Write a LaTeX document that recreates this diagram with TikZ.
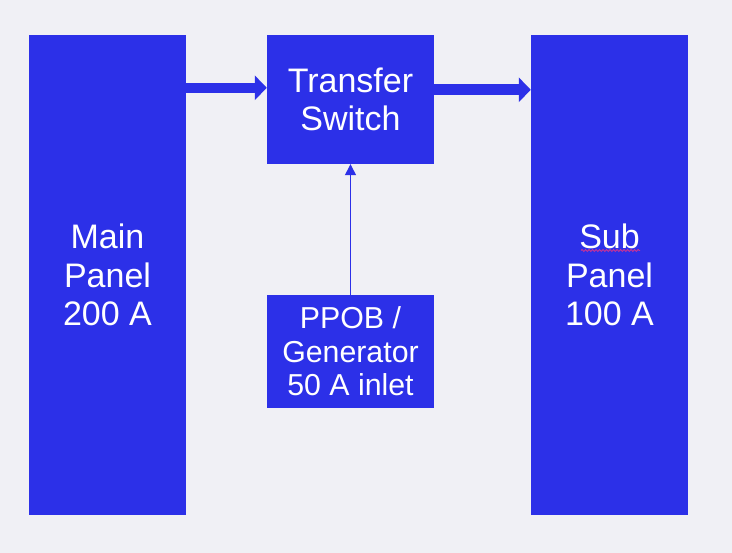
\documentclass[tikz,border=0pt]{standalone}
\usepackage{fontspec}
\setmainfont{Liberation Sans}
\usetikzlibrary{arrows.meta,decorations.pathmorphing}
\definecolor{boxblue}{RGB}{44,48,232}
\definecolor{bg}{RGB}{240,240,245}
\definecolor{squig}{RGB}{200,50,150}
\tikzset{
  panel/.style={draw=none,fill=boxblue,text=white,align=center,inner sep=0pt,
    font=\fontsize{34}{38.5}\selectfont},
  smallpanel/.style={panel,font=\fontsize{30.3}{33.5}\selectfont},
  bigarrow/.style={draw=boxblue,line width=10pt,-{Triangle[length=12pt,width=24pt]}},
  thinarrow/.style={draw=boxblue,line width=1.2pt,-{Triangle[length=11pt,width=11pt]}},
}
\begin{document}
\begin{tikzpicture}[x=1pt,y=1pt]
\fill[bg] (0,0) rectangle (732,553);
\useasboundingbox (0,0) rectangle (732,553);
\node[panel,minimum width=157pt,minimum height=480pt] (main) at (107.5,278) {Main\\Panel\\200 A};
\node[panel,minimum width=167pt,minimum height=129pt] (ts) at (350.5,453.5) {Transfer\\Switch};
\node[panel,minimum width=157pt,minimum height=480pt] (sub) at (609.5,278) {Sub\\Panel\\100 A};
\node[smallpanel,minimum width=167pt,minimum height=113pt] (ppob) at (350.5,201.5) {PPOB /\\Generator\\50 A inlet};
\draw[bigarrow] ([yshift=-53pt]main.north east) -- ([yshift=-53pt]ts.north west);
\draw[bigarrow,line width=11pt] ([yshift=-55pt]ts.north east) -- ([yshift=-55pt]sub.north west);
\draw[thinarrow] (ppob.north) -- (ts.south);
\coordinate (sqa) at (581,302.5);
\coordinate (sqb) at (640,302.5);
\draw[squig,line width=0.9pt,decorate,decoration={snake,amplitude=1pt,segment length=3.5pt}] (sqa) -- (sqb);
\end{tikzpicture}
\end{document}
